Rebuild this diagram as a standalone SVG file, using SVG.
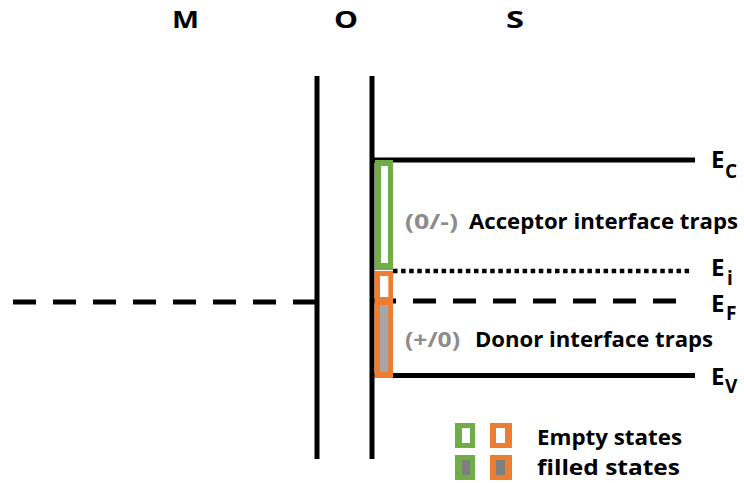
<svg xmlns="http://www.w3.org/2000/svg" width="744" height="483" viewBox="0 0 744 483">
<style>
text{font-family:"Open Sans","Liberation Sans",Arial,sans-serif;font-weight:bold;fill:#000}
.big{font-size:23px}
.e{font-size:24px}
.lab{font-size:22px}
.gray{fill:#8c8c8c}
.sub{font-size:19px}
.line{stroke:#000;stroke-width:5;fill:none}
.dash{stroke:#000;stroke-width:5;fill:none;stroke-dasharray:23 17}
.dot{stroke:#000;stroke-width:4.5;fill:none;stroke-dasharray:4.5 3.6}
</style>
<rect width="744" height="483" fill="#fff"/>
<g id="headers">
<text class="big" x="172" y="28" textLength="27" lengthAdjust="spacingAndGlyphs">M</text>
<text class="big" x="334" y="28" textLength="24" lengthAdjust="spacingAndGlyphs">O</text>
<text class="big" x="506" y="28" textLength="18" lengthAdjust="spacingAndGlyphs">S</text>
</g>
<g id="connectors">
<line class="line" x1="317" y1="76" x2="317" y2="459"/>
<line class="line" x1="372" y1="76" x2="372" y2="459"/>
<line class="dash" x1="13" y1="302" x2="316" y2="302"/>
<line class="dash" x1="373" y1="301" x2="684" y2="301"/>
<line class="dot" x1="393" y1="271" x2="692" y2="271"/>
<line class="line" x1="372" y1="160" x2="695" y2="160"/>
<line class="line" x1="372" y1="375.5" x2="695" y2="375.5"/>
</g>
<g id="acceptor-box">
<rect x="375" y="160" width="18" height="110" fill="#70ad47"/>
<rect x="381" y="166" width="7" height="97" fill="#fff"/>
</g>
<g id="donor-box">
<rect x="374.5" y="271" width="18.5" height="107" fill="#ed7d31"/>
<rect x="380" y="276" width="8.3" height="21" fill="#fff"/>
<rect x="380" y="305" width="8.3" height="67" fill="#a6a6a6"/>
</g>
<g id="labels">
<text class="lab gray" x="405" y="229" textLength="53" lengthAdjust="spacingAndGlyphs">(0/-)</text>
<text class="lab" x="469" y="229" textLength="269" lengthAdjust="spacingAndGlyphs">Acceptor interface traps</text>
<text class="lab gray" x="405" y="347" textLength="55" lengthAdjust="spacingAndGlyphs">(+/0)</text>
<text class="lab" x="475" y="347" textLength="238" lengthAdjust="spacingAndGlyphs">Donor interface traps</text>
</g>
<g id="EC"><text class="e" x="711" y="168">E</text><text class="sub" x="725" y="178">C</text></g>
<g id="Ei"><text class="e" x="711" y="276">E</text><text class="sub" x="727" y="285">i</text></g>
<g id="EF"><text class="e" x="711" y="312">E</text><text class="sub" x="726" y="320">F</text></g>
<g id="EV"><text class="e" x="711" y="385">E</text><text class="sub" x="725" y="393">V</text></g>
<g id="legend">
<rect x="455" y="423" width="20" height="25" fill="#70ad47"/>
<rect x="462" y="428" width="8" height="15" fill="#fff"/>
<rect x="490" y="423" width="22" height="25" fill="#ed7d31"/>
<rect x="496" y="428" width="9" height="15" fill="#fff"/>
<rect x="455" y="455" width="20" height="25" fill="#70ad47"/>
<rect x="462" y="460" width="8" height="15" fill="#7f7f7f"/>
<rect x="490" y="455" width="22" height="25" fill="#ed7d31"/>
<rect x="496" y="460" width="9" height="15" fill="#7f7f7f"/>
<text class="lab" x="537" y="445" textLength="145" lengthAdjust="spacingAndGlyphs">Empty states</text>
<text class="lab" x="537" y="475" textLength="143" lengthAdjust="spacingAndGlyphs">filled states</text>
</g>
</svg>
